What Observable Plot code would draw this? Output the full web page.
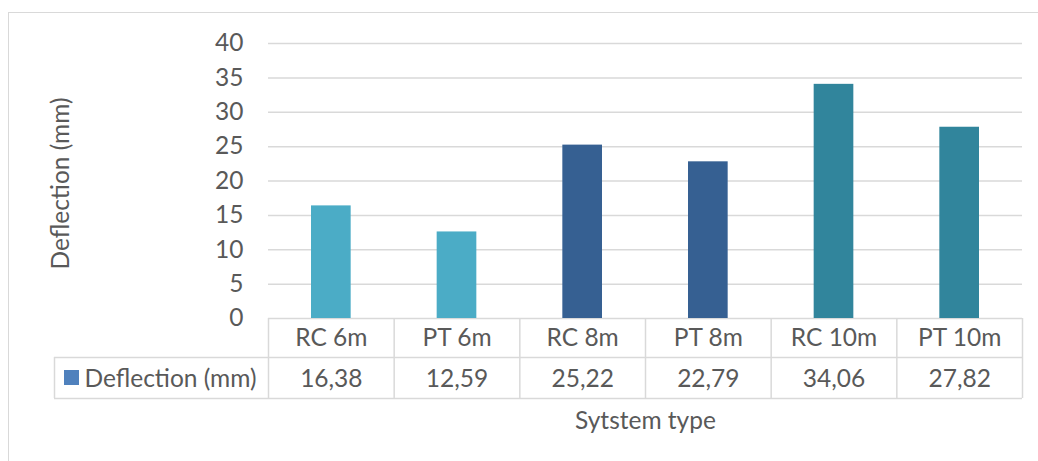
<!DOCTYPE html>
<html><head><meta charset="utf-8">
<script src="https://cdn.jsdelivr.net/npm/d3@7"></script>
<script src="https://cdn.jsdelivr.net/npm/@observablehq/plot@0.6"></script>
<style>
html,body{margin:0;padding:0;background:#fff;overflow:hidden}
#chart{position:relative;width:1038px;height:461px}
#chart svg{position:absolute;left:0;top:0}
#border{position:absolute;left:8px;top:12px;width:1100px;height:600px;border:1.5px solid #D9D9D9;box-sizing:border-box;pointer-events:none}
</style></head><body><div id="chart"></div>
<script>
const categories = ["RC 6m", "PT 6m", "RC 8m", "PT 8m", "RC 10m", "PT 10m"];
const deflection = [16.38, 12.59, 25.22, 22.79, 34.06, 27.82];
const spans = ["6m", "6m", "8m", "8m", "10m", "10m"];
const spanDomain = ["6m", "8m", "10m"];
const spanColors = ["#4BACC6", "#366092", "#31859C"];
const yTicks = [0, 5, 10, 15, 20, 25, 30, 35, 40];
const seriesName = "Deflection (mm)";
const xTitle = "Sytstem type";

const W = 1038, H = 461, L = 268, R = 1022, T = 43, B = 318;
const n = categories.length;
const xu = px => (px - L) / ((R - L) / n);
const yu = py => (B - py) / ((B - T) / 40);
const grid = "#D9D9D9";
const fs = 24.5;

const rows = categories.map((c, i) => ({
  c, i, v: deflection[i], span: spans[i],
  label: deflection[i].toFixed(2).replace(".", ",")
}));

const chart = Plot.plot({
  width: W, height: H,
  marginLeft: L, marginRight: W - R, marginTop: T, marginBottom: H - B,
  x: {domain: [0, n], axis: null},
  y: {domain: [0, 40], axis: null},
  color: {domain: spanDomain, range: spanColors},
  style: {fontFamily: "Lato, 'Open Sans', sans-serif", fontSize: fs + "px", color: "#595959", background: "transparent", overflow: "visible"},
  marks: [
    Plot.ruleY(yTicks, {stroke: grid, strokeWidth: 1.5}),
    Plot.rect(rows, {x1: d => d.i, x2: d => d.i + 1, y1: 0, y2: "v", fill: "span", insetLeft: 43, insetRight: 43}),
    Plot.axisY(yTicks, {tickSize: 0, tickPadding: 25, fontSize: fs, label: null}),
    // data table lines
    Plot.ruleX(d3.range(n + 1), {y1: 0, y2: yu(398), stroke: grid, strokeWidth: 1.5}),
    Plot.ruleX([xu(54)], {y1: yu(357), y2: yu(398), stroke: grid, strokeWidth: 1.5}),
    Plot.ruleY([yu(357), yu(398)], {x1: xu(54), x2: n, stroke: grid, strokeWidth: 1.5}),
    // table text
    Plot.text(rows, {x: d => d.i + 0.5, y: yu(338), text: "c", fontSize: fs}),
    Plot.text(rows, {x: d => d.i + 0.5, y: yu(378.5), text: "label", fontSize: fs}),
    // legend key
    Plot.rect([seriesName], {x1: xu(64), x2: xu(79), y1: yu(370), y2: yu(385), fill: "#4F81BD"}),
    Plot.text([seriesName], {x: xu(84), y: yu(378.5), text: d => d, textAnchor: "start", fontSize: fs}),
    // axis titles
    Plot.text([seriesName], {x: xu(61), y: yu(183), text: d => d, rotate: -90, fontSize: fs}),
    Plot.text([xTitle], {x: n / 2, y: yu(421), text: d => d, fontSize: fs})
  ]
});
const host = document.getElementById("chart");
host.appendChild(chart);
const border = document.createElement("div");
border.id = "border";
host.appendChild(border);
</script>
</body></html>
